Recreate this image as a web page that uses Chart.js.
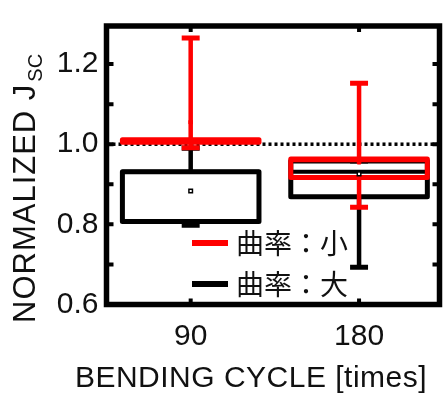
<!DOCTYPE html>
<html lang="ja">
<head>
<meta charset="UTF-8">
<title>Normalized Jsc vs bending cycle</title>
<script src="https://cdn.jsdelivr.net/npm/chart.js"></script>
<style>
  html, body { margin: 0; padding: 0; background: #fff; }
  canvas { display: block; }
</style>
</head>
<body>
<canvas id="boxChart" width="445" height="394"></canvas>
<script>
// bending cycles (x categories)
const cycles = [90, 180];

// 曲率:小 (red)
const smallLow  = [0.991, 0.843];
const smallQ1   = [1.005, 0.917];
const smallMed  = [1.008, 0.960];
const smallQ3   = [1.011, 0.963];
const smallHigh = [1.265, 1.152];
const smallMean = [1.055, 0.955];

// 曲率:大 (black)
const largeLow  = [0.798, 0.693];
const largeQ1   = [0.807, 0.869];
const largeMed  = [0.931, 0.931];
const largeQ3   = [0.931, 0.958];
const largeHigh = [0.990, 0.958];
const largeMean = [0.883, 0.926];

const yTicks = [0.6, 0.8, 1.0, 1.2];
const yMinor = [0.6, 0.7, 0.8, 0.9, 1.0, 1.1, 1.2];
const refLine = 1.0;

const FONT = '"Liberation Sans", Arial, sans-serif';
const CJK = '"Noto Sans CJK JP", "Noto Sans CJK SC", sans-serif';

const series = [
  { color: '#000000', low: largeLow, q1: largeQ1, med: largeMed, q3: largeQ3, high: largeHigh },
  { color: '#ff0000', low: smallLow, q1: smallQ1, med: smallMed, q3: smallQ3, high: smallHigh }
];

const BOX_HALF = 36.5;  // x units
const CAP_HALF = 4.8;

function drawSeries(ctx, x, y, s) {
  ctx.strokeStyle = s.color;
  cycles.forEach((c, i) => {
    const xc = x.getPixelForValue(c);
    const xl = x.getPixelForValue(c - BOX_HALF);
    const xr = x.getPixelForValue(c + BOX_HALF);
    const cl = x.getPixelForValue(c - CAP_HALF);
    const cr = x.getPixelForValue(c + CAP_HALF);
    const yLow = y.getPixelForValue(s.low[i]);
    const yQ1 = y.getPixelForValue(s.q1[i]);
    const yMed = y.getPixelForValue(s.med[i]);
    const yQ3 = y.getPixelForValue(s.q3[i]);
    const yHigh = y.getPixelForValue(s.high[i]);

    // whiskers
    ctx.lineWidth = 4.5;
    ctx.beginPath();
    ctx.moveTo(xc, yQ1); ctx.lineTo(xc, yLow);
    ctx.moveTo(xc, yQ3); ctx.lineTo(xc, yHigh);
    ctx.stroke();
    // caps
    ctx.lineWidth = 5;
    ctx.beginPath();
    ctx.moveTo(cl, yLow); ctx.lineTo(cr, yLow);
    ctx.moveTo(cl, yHigh); ctx.lineTo(cr, yHigh);
    ctx.stroke();
    // box
    ctx.lineWidth = 5;
    ctx.lineJoin = 'round';
    ctx.strokeRect(xl, yQ3, xr - xl, yQ1 - yQ3);
    // median
    ctx.lineWidth = 4;
    ctx.beginPath();
    ctx.moveTo(xl, yMed); ctx.lineTo(xr, yMed);
    ctx.stroke();
  });
}

const boxPlugin = {
  id: 'boxes',
  beforeDatasetsDraw(chart) {
    const { ctx, chartArea: a, scales: { x, y } } = chart;
    ctx.save();
    // dotted line at 1.0
    const yr = y.getPixelForValue(refLine);
    ctx.strokeStyle = '#000';
    ctx.lineWidth = 3.5;
    ctx.setLineDash([3, 3]);
    ctx.beginPath();
    ctx.moveTo(a.left, yr); ctx.lineTo(a.right, yr);
    ctx.stroke();
    ctx.setLineDash([]);
    series.forEach(s => drawSeries(ctx, x, y, s));
    ctx.restore();
  },
  afterDraw(chart) {
    const { ctx, chartArea: a, scales: { x, y } } = chart;
    ctx.save();
    // frame
    ctx.strokeStyle = '#000';
    ctx.lineWidth = 5.5;
    ctx.strokeRect(a.left, a.top, a.right - a.left, a.bottom - a.top);
    // inward ticks
    ctx.lineWidth = 4;
    ctx.beginPath();
    yMinor.forEach(v => {
      const py = y.getPixelForValue(v);
      ctx.moveTo(a.left, py); ctx.lineTo(a.left + 7, py);
      ctx.moveTo(a.right, py); ctx.lineTo(a.right - 7, py);
    });
    cycles.forEach(c => {
      const px = x.getPixelForValue(c);
      ctx.moveTo(px, a.top); ctx.lineTo(px, a.top + 6);
      ctx.moveTo(px, a.bottom); ctx.lineTo(px, a.bottom - 6);
    });
    ctx.stroke();

    // axis titles
    ctx.fillStyle = '#111';
    ctx.textBaseline = 'alphabetic';
    ctx.font = '30px ' + FONT;
    ctx.textAlign = 'center';
    ctx.letterSpacing = '0.5px';
    ctx.fillText('BENDING CYCLE [times]', 251, 387);

    ctx.save();
    ctx.translate(35, 323);
    ctx.rotate(-Math.PI / 2);
    ctx.textAlign = 'left';
    ctx.letterSpacing = '1px';
    ctx.font = '31px ' + FONT;
    ctx.fillText('NORMALIZED J', 0, 0);
    const w = ctx.measureText('NORMALIZED J').width;
    ctx.letterSpacing = '0px';
    ctx.font = '20px ' + FONT;
    ctx.fillText('SC', w + 2, 7);
    ctx.restore();

    // legend
    const items = [
      { color: '#ff0000', text: '曲率：小', y: 243 },
      { color: '#000000', text: '曲率：大', y: 284 }
    ];
    ctx.letterSpacing = '0px';
    ctx.textAlign = 'left';
    ctx.textBaseline = 'middle';
    ctx.font = '28px ' + CJK;
    items.forEach(it => {
      ctx.strokeStyle = it.color;
      ctx.lineWidth = 6;
      ctx.beginPath();
      ctx.moveTo(192, it.y); ctx.lineTo(228, it.y);
      ctx.stroke();
      ctx.fillStyle = '#111';
      ctx.fillText(it.text, 236, it.y);
    });
    ctx.restore();
  }
};

const ctx = document.getElementById('boxChart').getContext('2d');
new Chart(ctx, {
  type: 'scatter',
  data: {
    datasets: [
      {
        label: '曲率:大',
        data: cycles.map((c, i) => ({ x: c, y: largeMean[i] })),
        pointStyle: 'rect',
        pointRadius: 2.5,
        borderColor: '#000',
        backgroundColor: '#fff',
        borderWidth: 1.5
      },
      {
        label: '曲率:小',
        data: cycles.map((c, i) => ({ x: c, y: smallMean[i] })),
        pointStyle: 'rect',
        pointRadius: 2.5,
        borderColor: '#ff0000',
        backgroundColor: '#ff0000',
        borderWidth: 1
      }
    ]
  },
  options: {
    responsive: false,
    animation: false,
    layout: { padding: { top: 14.5, left: 0, right: 0, bottom: 0 } },
    plugins: {
      legend: { display: false },
      tooltip: { enabled: false }
    },
    scales: {
      x: {
        type: 'linear',
        min: 45,
        max: 223,
        afterBuildTicks: s => { s.ticks = cycles.map(v => ({ value: v })); },
        afterFit: s => { s.height = 89.5; },
        grid: { display: false, drawTicks: false },
        border: { display: false },
        ticks: {
          color: '#111',
          padding: 14,
          maxRotation: 0,
          font: { size: 30, family: FONT }
        }
      },
      y: {
        min: 0.6,
        max: 1.295,
        afterBuildTicks: s => { s.ticks = yTicks.map(v => ({ value: v })); },
        afterFit: s => { s.width = 106.5; },
        grid: { display: false, drawTicks: false },
        border: { display: false },
        ticks: {
          color: '#111',
          padding: 8,
          font: { size: 30, family: FONT },
          callback: v => v.toFixed(1)
        }
      }
    }
  },
  plugins: [boxPlugin]
});
</script>
</body>
</html>
